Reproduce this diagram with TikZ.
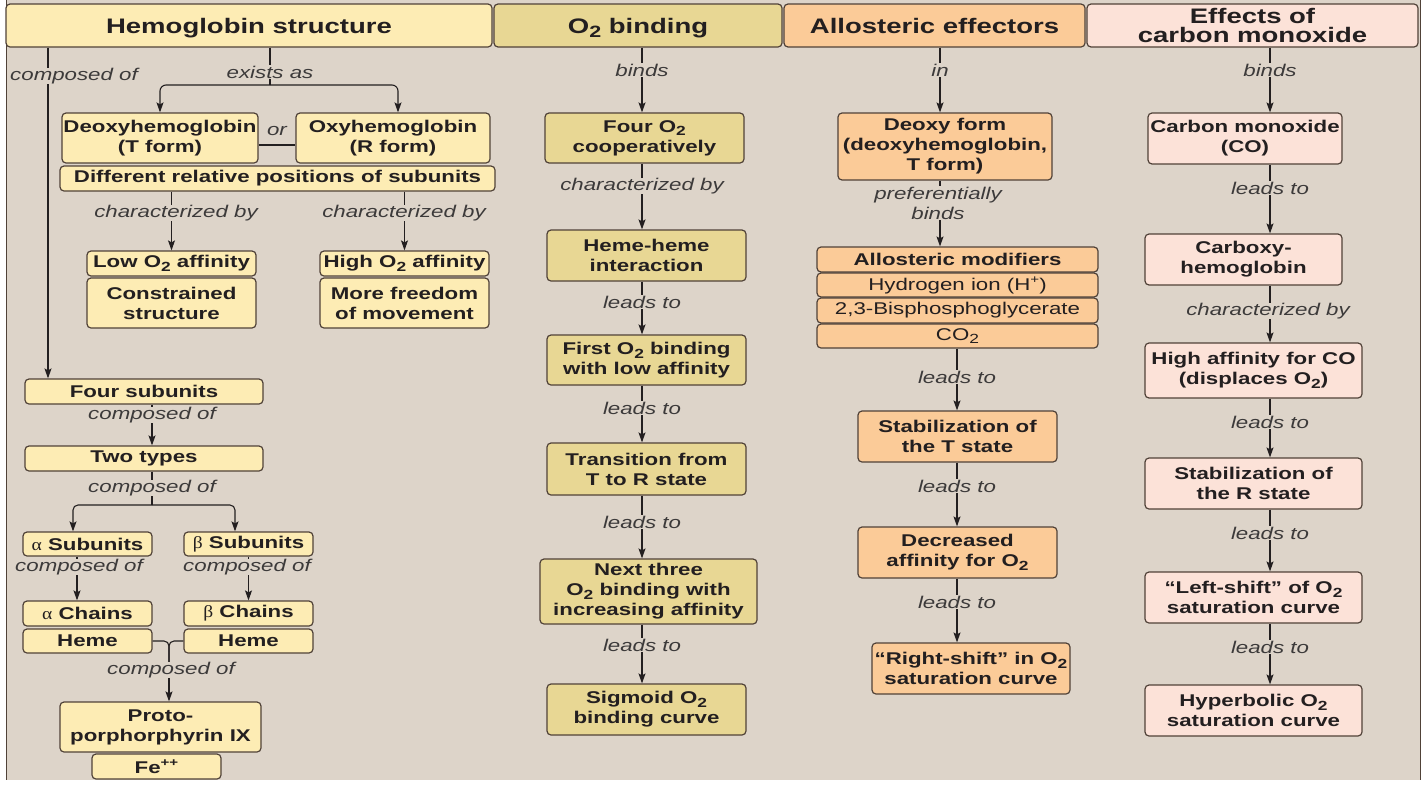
\documentclass[tikz,border=0pt]{standalone}
\usepackage{fontspec}
\usepackage{graphicx}
\setmainfont{Liberation Sans}[FakeStretch=1.31]
\newfontfamily\grkfont{Liberation Serif}[FakeStretch=1.15]
\usetikzlibrary{arrows.meta,calc}
\definecolor{bg}{RGB}{221,212,201}
\definecolor{cA}{RGB}{253,236,180}
\definecolor{cB}{RGB}{232,215,148}
\definecolor{cC}{RGB}{251,203,152}
\definecolor{cD}{RGB}{252,226,216}
\definecolor{edge}{RGB}{80,66,56}
\definecolor{ink}{RGB}{35,31,32}
\definecolor{lab}{RGB}{60,58,58}
\newcommand\subt[1]{\raisebox{-0.22em}{\scalebox{0.78}{#1}}}
\newcommand\supt[1]{\raisebox{0.42em}{\scalebox{0.68}{#1}}}
\newcommand\grk[1]{{\grkfont\mdseries #1}}
\tikzset{
  box/.style={draw=edge, line width=1.2pt, rounded corners=4pt, inner sep=0pt, align=center, text=ink, font=\fontsize{17}{20}\selectfont\bfseries},
  bA/.style={box, fill=cA},
  bB/.style={box, fill=cB},
  bC/.style={box, fill=cC},
  bD/.style={box, fill=cD},
  hdr/.style={font=\fontsize{21}{19}\selectfont\bfseries, text depth=0pt},
  plain/.style={font=\fontsize{17}{20}\selectfont\mdseries},
  lbl/.style={font=\fontsize{17}{20}\selectfont\itshape, text=lab, fill=bg, inner sep=0.5pt, align=center},
  conn/.style={draw=ink, line width=1.1pt},
  arr/.style={conn, -{Stealth[length=10pt,width=7pt,inset=2pt]}},
}
\begin{document}
\begin{tikzpicture}[x=1pt,y=-1pt]
\useasboundingbox (0,0) rectangle (1424,785);
\fill[bg] (6,0) rectangle (1420,780);
\draw[edge, line width=1pt] (6,0) -- (6,780);
\draw[edge, line width=1pt] (1420,0) -- (1420,780);

% headers
\node[bA, hdr, minimum width=486pt, minimum height=43pt] (hemo) at (249,25.5) {Hemoglobin structure};
\node[bB, hdr, minimum width=288pt, minimum height=43pt] (o2h) at (638,25.5) {O\subt{2} binding};
\node[bC, hdr, minimum width=301pt, minimum height=43pt] (alh) at (934.5,25.5) {Allosteric effectors};
\node[bD, hdr, minimum width=331pt, minimum height=43pt] (coh) at (1252.5,25.5) {Effects of\\carbon monoxide};

% column 1
\node[bA, minimum width=196pt, minimum height=50pt] (deoxy) at (160,138) {Deoxyhemoglobin\\(T form)};
\node[bA, minimum width=194pt, minimum height=50pt] (oxy) at (393,138) {Oxyhemoglobin\\(R form)};
\node[bA, minimum width=435pt, minimum height=25pt] (diff) at (277.5,178.5) {Different relative positions of subunits};
\node[bA, minimum width=169pt, minimum height=25pt] (lowaff) at (171.5,263.5) {Low O\subt{2} affinity};
\node[bA, minimum width=169pt, minimum height=50pt] (constr) at (171.5,303) {Constrained\\structure};
\node[bA, minimum width=169pt, minimum height=25pt] (highaff) at (404.5,263.5) {High O\subt{2} affinity};
\node[bA, minimum width=169pt, minimum height=50pt] (freedom) at (404.5,303) {More freedom\\of movement};
\node[bA, minimum width=238pt, minimum height=25pt] (four) at (144,391.5) {Four subunits};
\node[bA, minimum width=238pt, minimum height=25pt] (two) at (144,458.5) {Two types};
\node[bA, minimum width=129pt, minimum height=24pt] (asub) at (87.5,544) {\grk{α} Subunits};
\node[bA, minimum width=129pt, minimum height=24pt] (bsub) at (248.5,544) {\grk{β} Subunits};
\node[bA, minimum width=129pt, minimum height=25pt] (achain) at (87.5,613.5) {\grk{α} Chains};
\node[bA, minimum width=129pt, minimum height=24pt] (ahem) at (87.5,641) {Heme};
\node[bA, minimum width=129pt, minimum height=25pt] (bchain) at (248.5,613.5) {\grk{β} Chains};
\node[bA, minimum width=129pt, minimum height=24pt] (bhem) at (248.5,641) {Heme};
\node[bA, minimum width=201pt, minimum height=50pt] (proto) at (160.5,727) {Proto-\\porphorphyrin IX};
\node[bA, minimum width=129pt, minimum height=25pt] (fe) at (156.5,766.5) {Fe\supt{++}};

% column 2
\node[bB, minimum width=199pt, minimum height=50pt] (fouro2) at (644.5,138) {Four O\subt{2}\\cooperatively};
\node[bB, minimum width=199pt, minimum height=51pt] (hh) at (646.5,255.5) {Heme-heme\\interaction};
\node[bB, minimum width=199pt, minimum height=50pt] (first) at (646.5,360) {First O\subt{2} binding\\with low affinity};
\node[bB, minimum width=199pt, minimum height=52pt] (trans) at (646.5,469) {Transition from\\T to R state};
\node[bB, minimum width=217pt, minimum height=65pt] (next) at (648.5,591.5) {Next three\\O\subt{2} binding with\\increasing affinity};
\node[bB, minimum width=199pt, minimum height=51pt] (sigm) at (646.5,709.5) {Sigmoid O\subt{2}\\binding curve};

% column 3
\node[bC, minimum width=214pt, minimum height=67pt] (deoxyf) at (945,146.5) {Deoxy form\\(deoxyhemoglobin,\\T form)};
\node[bC, minimum width=281pt, minimum height=25pt] (mod) at (957.5,259.5) {Allosteric modifiers};
\node[bC, plain, minimum width=281pt, minimum height=24pt] (hyd) at (957.5,285) {Hydrogen ion (H\supt{+})};
\node[bC, plain, minimum width=281pt, minimum height=25pt] (bpg) at (957.5,310.5) {2,3-Bisphosphoglycerate};
\node[bC, plain, minimum width=281pt, minimum height=24pt] (co2) at (957.5,336) {CO\subt{2}};
\node[bC, minimum width=199pt, minimum height=51pt] (stabT) at (957.5,436.5) {Stabilization of\\the T state};
\node[bC, minimum width=199pt, minimum height=51pt] (decr) at (957.5,552.5) {Decreased\\affinity for O\subt{2}};
\node[bC, minimum width=198pt, minimum height=51pt] (right) at (971,668.5) {“Right-shift” in O\subt{2}\\saturation curve};

% column 4
\node[bD, minimum width=194pt, minimum height=51pt] (cobox) at (1245,138.5) {Carbon monoxide\\(CO)};
\node[bD, minimum width=197pt, minimum height=51pt] (carb) at (1243.5,259.5) {Carboxy-\\hemoglobin};
\node[bD, minimum width=217pt, minimum height=55pt] (highco) at (1253.5,370.5) {High affinity for CO\\(displaces O\subt{2})};
\node[bD, minimum width=217pt, minimum height=51pt] (stabR) at (1253.5,483.5) {Stabilization of\\the R state};
\node[bD, minimum width=217pt, minimum height=51pt] (left) at (1253.5,597.5) {“Left-shift” of O\subt{2}\\saturation curve};
\node[bD, minimum width=217pt, minimum height=51pt] (hyper) at (1253.5,710.5) {Hyperbolic O\subt{2}\\saturation curve};

% connectors column 1
\coordinate (lx) at (48,0);
\coordinate (ex) at (270,85);
\coordinate (c1) at (152,0);
\coordinate (fk) at (152,505);
\coordinate (ax) at (73,0);
\coordinate (bx) at (235,0);
\coordinate (ax2) at (77,0);
\coordinate (jn) at (169,662);
\draw[arr] (hemo.south -| lx) -- (four.north -| lx);
\draw[conn] (hemo.south -| ex) -- (ex);
\draw[arr, rounded corners=6pt] (ex) -| (deoxy.north);
\draw[arr, rounded corners=6pt] (ex) -| ([xshift=5pt]oxy.north);
\draw[conn] ([yshift=-7pt]deoxy.east) -- ([yshift=-7pt]oxy.west);
\draw[arr] (diff.south -| lowaff.north) -- (lowaff.north);
\draw[arr] (diff.south -| highaff.north) -- (highaff.north);
\draw[arr] (four.south -| c1) -- (two.north -| c1);
\draw[conn] (two.south -| fk) -- (fk);
\draw[arr, rounded corners=5pt] (fk) -| (asub.north -| ax);
\draw[arr, rounded corners=5pt] (fk) -| (bsub.north -| bx);
\draw[arr] (asub.south -| ax2) -- (achain.north -| ax2);
\draw[arr] (bsub.south) -- (bchain.north);
\draw[conn, rounded corners=5pt] (ahem.east) -| (jn);
\draw[conn, rounded corners=5pt] (bhem.west) -| (jn);
\draw[arr] (jn) -- (proto.north -| jn);

% connectors column 2
\coordinate (c2) at (642,0);
\draw[arr] (o2h.south -| c2) -- (fouro2.north -| c2);
\draw[arr] (fouro2.south -| c2) -- (hh.north -| c2);
\draw[arr] (hh.south -| c2) -- (first.north -| c2);
\draw[arr] (first.south -| c2) -- (trans.north -| c2);
\draw[arr] (trans.south -| c2) -- (next.north -| c2);
\draw[arr] (next.south -| c2) -- (sigm.north -| c2);

% connectors column 3
\coordinate (c3a) at (940,0);
\coordinate (c3) at (957,0);
\draw[arr] (alh.south -| c3a) -- (deoxyf.north -| c3a);
\draw[arr] (deoxyf.south -| c3a) -- (mod.north -| c3a);
\draw[arr] (co2.south -| c3) -- (stabT.north -| c3);
\draw[arr] (stabT.south -| c3) -- (decr.north -| c3);
\draw[arr] (decr.south -| c3) -- (right.north -| c3);

% connectors column 4
\coordinate (c4) at (1270,0);
\draw[arr] (coh.south -| c4) -- (cobox.north -| c4);
\draw[arr] (cobox.south -| c4) -- (carb.north -| c4);
\draw[arr] (carb.south -| c4) -- (highco.north -| c4);
\draw[arr] (highco.south -| c4) -- (stabR.north -| c4);
\draw[arr] (stabR.south -| c4) -- (left.north -| c4);
\draw[arr] (left.south -| c4) -- (hyper.north -| c4);

% labels
\node[lbl] (la1) at (74,76) {composed of};
\node[lbl] (la2) at (270,72) {exists as};
\node[lbl] (la3) at (277,131) {or};
\node[lbl] (la4) at (176,213) {characterized by};
\node[lbl] (la5) at (404,213) {characterized by};
\node[lbl] (la6) at (152,415) {composed of};
\node[lbl] (la7) at (152,488) {composed of};
\node[lbl] (la8) at (79,567) {composed of};
\node[lbl] (la9) at (247,567) {composed of};
\node[lbl] (la10) at (171,670) {composed of};
\node[lbl] (lb1) at (642,70) {binds};
\node[lbl] (lb2) at (642,186) {characterized by};
\node[lbl] (lb3) at (642,302) {leads to};
\node[lbl] (lb4) at (642,408) {leads to};
\node[lbl] (lb5) at (642,522) {leads to};
\node[lbl] (lb6) at (642,645) {leads to};
\node[lbl] (lc1) at (940,70) {in};
\node[lbl] (lc2) at (938,203) {preferentially\\binds};
\node[lbl] (lc3) at (957,377) {leads to};
\node[lbl] (lc4) at (957,486) {leads to};
\node[lbl] (lc5) at (957,602) {leads to};
\node[lbl] (ld1) at (1270,70) {binds};
\node[lbl] (ld2) at (1270,188) {leads to};
\node[lbl] (ld3) at (1268,311) {characterized by};
\node[lbl] (ld4) at (1270,422) {leads to};
\node[lbl] (ld5) at (1270,533) {leads to};
\node[lbl] (ld6) at (1270,647) {leads to};
\end{tikzpicture}
\end{document}
